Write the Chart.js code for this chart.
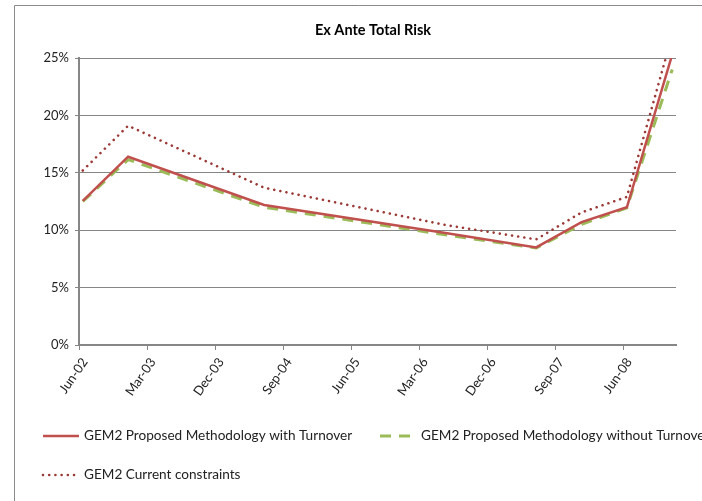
<!DOCTYPE html>
<html>
<head>
<meta charset="utf-8">
<title>Ex Ante Total Risk</title>
<script src="https://cdn.jsdelivr.net/npm/chart.js@4.4.1/dist/chart.umd.min.js"></script>
<style>
  html, body { margin: 0; padding: 0; background: #fff; overflow: hidden; }
  canvas { display: block; }
</style>
</head>
<body>
<canvas id="riskChart" width="702" height="501"></canvas>
<script>
// ---- data ----
const chartTitle = 'Ex Ante Total Risk';
const tickLabels = ['Jun-02', 'Mar-03', 'Dec-03', 'Sep-04', 'Jun-05', 'Mar-06', 'Dec-06', 'Sep-07', 'Jun-08'];
const dates = ['Jun-02', 'Dec-02', 'Jun-04', 'Jun-06', 'Jun-07', 'Dec-07', 'Jun-08', 'Dec-08'];
const withTurnover = [12.55, 16.4, 12.2, 9.75, 8.5, 10.7, 12.0, 25.3];
const withoutTurnover = [12.5, 16.15, 12.0, 9.6, 8.45, 10.5, 11.95, 24.0];
const currentConstraints = [15.2, 19.1, 13.7, 10.45, 9.2, 11.55, 12.9, 27.0];
const seriesNames = [
  'GEM2 Proposed Methodology with Turnover',
  'GEM2 Proposed Methodology without Turnover',
  'GEM2 Current constraints'
];

// ---- date helpers: monthly slots, each point centred in its month ----
const MONTHS = ['Jan','Feb','Mar','Apr','May','Jun','Jul','Aug','Sep','Oct','Nov','Dec'];
function monthNumber(label) {
  const [m, y] = label.split('-');
  return (2000 + Number(y)) * 12 + MONTHS.indexOf(m);
}
const firstMonth = monthNumber(tickLabels[0]);
const slot = label => monthNumber(label) - firstMonth;
const toPoints = values => values.map((v, i) => ({ x: slot(dates[i]) + 0.5, y: v }));

const FONT = 'Lato, "Liberation Sans", Arial, sans-serif';
const AXIS_GREY = '#868686';
const TEXT = '#222222';

// ---- chart frame and title ----
const framePlugin = {
  id: 'frame',
  beforeDraw(chart) {
    const ctx = chart.ctx;
    ctx.save();
    ctx.fillStyle = '#ffffff';
    ctx.fillRect(0, 0, chart.width, chart.height);
    ctx.strokeStyle = '#8a8a8a';
    ctx.lineWidth = 1;
    ctx.beginPath();
    ctx.moveTo(14.5, chart.height);
    ctx.lineTo(14.5, 5.5);
    ctx.lineTo(chart.width, 5.5);
    ctx.stroke();
    ctx.restore();
  },
  afterDraw(chart) {
    const ctx = chart.ctx;
    ctx.save();
    ctx.fillStyle = '#000';
    ctx.font = 'bold 14.5px ' + FONT;
    ctx.textAlign = 'center';
    ctx.textBaseline = 'middle';
    ctx.fillText(chartTitle, 373, 30);
    ctx.restore();
  }
};

// ---- legend drawn below the plot, two rows ----
const legendSlots = [
  { x: 43, y: 436 },
  { x: 380, y: 436 },
  { x: 43, y: 475 }
];
const legendPlugin = {
  id: 'sideLegend',
  afterDraw(chart) {
    const ctx = chart.ctx;
    ctx.save();
    chart.data.datasets.forEach((ds, i) => {
      const s = legendSlots[i];
      ctx.strokeStyle = ds.borderColor;
      ctx.lineWidth = ds.borderWidth;
      ctx.lineCap = ds.borderCapStyle || 'butt';
      ctx.setLineDash(ds.borderDash || []);
      ctx.beginPath();
      ctx.moveTo(s.x, s.y);
      ctx.lineTo(s.x + 36, s.y);
      ctx.stroke();
      ctx.setLineDash([]);
      ctx.fillStyle = TEXT;
      ctx.font = '13.6px ' + FONT;
      ctx.textAlign = 'left';
      ctx.textBaseline = 'middle';
      ctx.fillText(ds.label, s.x + 41, s.y);
    });
    ctx.restore();
  }
};

new Chart(document.getElementById('riskChart'), {
  type: 'line',
  data: {
    datasets: [
      {
        label: seriesNames[0],
        data: toPoints(withTurnover),
        borderColor: '#C0504D',
        borderWidth: 2.5,
        pointRadius: 0,
        tension: 0
      },
      {
        label: seriesNames[1],
        data: toPoints(withoutTurnover),
        borderColor: '#9BBB59',
        borderWidth: 3,
        borderDash: [11, 8],
        pointRadius: 0,
        tension: 0
      },
      {
        label: seriesNames[2],
        data: toPoints(currentConstraints),
        borderColor: '#9B3936',
        borderWidth: 2.6,
        borderDash: [0.01, 6.2],
        borderCapStyle: 'round',
        pointRadius: 0,
        tension: 0
      }
    ]
  },
  options: {
    responsive: false,
    animation: false,
    devicePixelRatio: 1,
    layout: { padding: { left: 0, right: 26, top: 58, bottom: 0 } },
    plugins: {
      legend: { display: false },
      title: { display: false },
      tooltip: { enabled: false }
    },
    scales: {
      x: {
        type: 'linear',
        min: 0,
        max: slot(dates[dates.length - 1]) + 1,
        afterBuildTicks(scale) {
          scale.ticks = tickLabels.map(l => ({ value: slot(l) }));
        },
        afterFit(scale) { scale.height = 156; },
        ticks: {
          autoSkip: false,
          minRotation: 55,
          maxRotation: 55,
          padding: 5,
          labelOffset: 6,
          color: TEXT,
          font: { family: FONT, size: 13 },
          callback: (value, index) => tickLabels[index]
        },
        grid: {
          drawOnChartArea: false,
          drawTicks: true,
          tickLength: 5,
          color: AXIS_GREY,
          lineWidth: 1
        },
        border: { color: AXIS_GREY, width: 2 }
      },
      y: {
        min: 0,
        max: 25,
        afterFit(scale) { scale.width = 79; },
        ticks: {
          stepSize: 5,
          padding: 6,
          color: TEXT,
          font: { family: FONT, size: 13 },
          callback: v => v + '%'
        },
        grid: {
          color: AXIS_GREY,
          lineWidth: 1,
          drawTicks: true,
          tickLength: 4
        },
        border: { color: AXIS_GREY, width: 2 }
      }
    }
  },
  plugins: [framePlugin, legendPlugin]
});
</script>
</body>
</html>
